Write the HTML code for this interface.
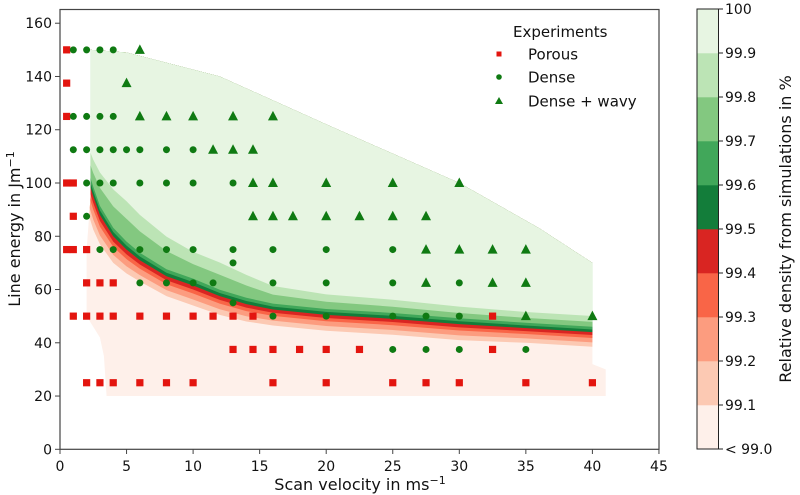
<!DOCTYPE html>
<html><head><meta charset="utf-8">
<style>
html,body{margin:0;padding:0;background:#fff;}
svg{display:block;font-family:"DejaVu Sans","Liberation Sans",sans-serif;}
</style></head>
<body>
<svg id="chart" width="800" height="495" viewBox="0 0 800 495" xmlns="http://www.w3.org/2000/svg">
<defs><clipPath id="domclip"><polygon id="dompoly" points=""/></clipPath></defs>
<g id="plot"></g>
<g id="axes"></g>
<g id="legend"></g>
<g id="cbar"></g>
</svg>
<script>
// ---- data ----
const xTicks = [0,5,10,15,20,25,30,35,40,45];
const yTicks = [0,20,40,60,80,100,120,140,160];
const cbarTicks = ["< 99.0","99.1","99.2","99.3","99.4","99.5","99.6","99.7","99.8","99.9","100"];
const levels = [99.1,99.2,99.3,99.4,99.5,99.6,99.7,99.8,99.9];
const bandColors = ["#fef0ea","#fcc9b3","#fc9c7f","#f96547","#d92522","#137d3a","#41a75a","#83c880","#bce4b5","#e7f5e2"];
const contourX = [1.5,2,2.5,3,4,5,6,8,10,12,14,16,20,25,30,35,40,42];
const contourCenter = [104,103,95,88,80,75,71,65,61.5,57.5,54.5,52.5,50.5,49,47,45.5,44,44];
const redSpread = [2.5,2.5,2.5,2.2,2,1.8,1.6,1.5,1.5,1.4,1.3,1.2,1.2,1.2,1.2,1.1,1.1,1.1];
const innerGreenSpread = [1.8,1.8,1.8,1.7,1.6,1.5,1.4,1.3,1.3,1.2,1.2,1.1,1.1,1.1,1.1,1.0,1.0,1.0];
const outerGreenSpread = [2,2.2,2.5,2.9,3.2,3.3,3.1,2.7,2.3,2.3,2.0,1.6,1.4,1.3,1.2,1.1,1.1,1.1];
const levelOffset = [-5,-3.5,-2,-1,0,1,2,3.5,5.5];
const domainX = [2.3,5,12,20,30,36,40,40,41,41,3.5,3.3,3,2,2,2.3];
const domainY = [150,149,140,122,100,83,70,32,30,20,20,35,42,50,75,95];
const porousX = [0.5,0.5,0.5,0.5,0.5,1,1,1,1,2,2,2,2,3,3,3,4,4,4,6,6,8,8,10,10,11.5,13,13,14.5,14.5,16,16,18,20,20,22.5,25,27.5,30,32.5,32.5,35,40];
const porousY = [150,137.5,125,100,75,100,87.5,75,50,75,62.5,50,25,62.5,50,25,62.5,50,25,50,25,50,25,50,25,50,50,37.5,50,37.5,37.5,25,37.5,37.5,25,37.5,25,25,25,50,37.5,25,25];
const denseX = [1,2,3,4,1,2,3,4,1,2,3,4,5,6,8,10,2,3,4,6,8,10,13,2,3,4,6,8,10,13,16,20,25,13,6,8,10,11.5,16,20,25,30,13,16,20,25,27.5,30,25,27.5,30,35];
const denseY = [150,150,150,150,125,125,125,125,112.5,112.5,112.5,112.5,112.5,112.5,112.5,112.5,100,100,100,100,100,100,100,87.5,75,75,75,75,75,75,75,75,75,70,62.5,62.5,62.5,62.5,62.5,62.5,62.5,62.5,55,50,50,50,50,50,37.5,37.5,37.5,37.5];
const wavyX = [6,5,6,8,10,13,16,11.5,13,14.5,14.5,16,20,25,30,14.5,16,17.5,20,22.5,25,27.5,27.5,30,32.5,35,27.5,32.5,35,35,40];
const wavyY = [150,137.5,125,125,125,125,125,112.5,112.5,112.5,100,100,100,100,100,87.5,87.5,87.5,87.5,87.5,87.5,87.5,75,75,75,75,62.5,62.5,62.5,50,50];

// ---- scales ----
const X = v => 60 + v * 13.31;
const Y = v => 449.3 - v * 2.663;
const NS = "http://www.w3.org/2000/svg";
function mk(tag, attrs, parent){const e=document.createElementNS(NS,tag);for(const k in attrs)e.setAttribute(k,attrs[k]);parent.appendChild(e);return e;}
const plot=document.getElementById('plot'), axes=document.getElementById('axes'), legend=document.getElementById('legend'), cbar=document.getElementById('cbar');

document.getElementById('dompoly').setAttribute('points', domainX.map((x,i)=>X(x)+','+Y(domainY[i])).join(' '));
const filled = mk('g',{'clip-path':'url(#domclip)'},plot);


const base = mk('rect',{x:0,y:0,width:800,height:495,fill:bandColors[0]},filled);


levels.forEach((lv,i)=>{
  const off = levelOffset[i];
  const spread = off<=0 ? redSpread : (off<3 ? innerGreenSpread : outerGreenSpread);
  const pts = contourX.map((x,j)=>X(x)+','+Y(contourCenter[j]+off*spread[j]));
  pts.push(X(contourX[contourX.length-1])+',0');
  pts.push(X(contourX[0])+',0');
  const p = mk('polygon',{points:pts.join(' '),fill:bandColors[i+1]},filled);
  
  
});

const RED="#e3150f", GREEN="#0f7a12";
porousX.forEach((x,i)=>{
  const r=mk('rect',{x:X(x)-3.6,y:Y(porousY[i])-3.6,width:7.2,height:7.2,fill:RED},plot);
  
  
});
denseX.forEach((x,i)=>{
  const c=mk('circle',{cx:X(x),cy:Y(denseY[i]),r:3.5,fill:GREEN},plot);
  
  
});
wavyX.forEach((x,i)=>{
  const cx=X(x), cy=Y(wavyY[i]);
  const t=mk('polygon',{points:`${cx},${cy-5.5} ${cx-5},${cy+4} ${cx+5},${cy+4}`,fill:GREEN},plot);
  
  
});

const frame=mk('rect',{x:60,y:9.5,width:599,height:439.8,fill:'none',stroke:'#444','stroke-width':1.2},axes);


xTicks.forEach(v=>{
  mk('line',{x1:X(v),x2:X(v),y1:449.3,y2:454,stroke:'#444','stroke-width':1},axes);
  const t=mk('text',{x:X(v),y:471,'text-anchor':'middle','font-size':14,fill:'#111'},axes);
  t.textContent=v;
  
  
});
yTicks.forEach(v=>{
  mk('line',{x1:55,x2:60,y1:Y(v),y2:Y(v),stroke:'#444','stroke-width':1},axes);
  const t=mk('text',{x:52,y:Y(v)+5,'text-anchor':'end','font-size':14,fill:'#111'},axes);
  t.textContent=v;
  
  
});
const xl=mk('text',{x:360,y:490,'text-anchor':'middle','font-size':16,fill:'#111'},axes);
xl.innerHTML='Scan velocity in ms<tspan dy="-6" font-size="11">−1</tspan>';


const yl=mk('text',{x:0,y:0,'text-anchor':'middle','font-size':16,fill:'#111',transform:'translate(20,229) rotate(-90)'},axes);
yl.innerHTML='Line energy in Jm<tspan dy="-6" font-size="11">−1</tspan>';



const lt=mk('text',{x:513,y:37,'font-size':15,fill:'#111'},legend);
lt.textContent='Experiments';


const legItems=[['Porous',54],['Dense',77],['Dense + wavy',101]];
legItems.forEach((it,i)=>{
  const y=it[1];
  if(i===0) mk('rect',{x:496.5,y:y-2.5,width:5,height:5,fill:RED},legend);
  else if(i===1) mk('circle',{cx:499,cy:y,r:2.8,fill:GREEN},legend);
  else mk('polygon',{points:`499,${y-4} 495,${y+3} 503,${y+3}`,fill:GREEN},legend);
  const t=mk('text',{x:528,y:y+5.5,'font-size':15,fill:'#111'},legend);
  t.textContent=it[0];
  
  
});

const cbTop=9, cbBot=449, cbH=(cbBot-cbTop)/10;
bandColors.forEach((c,i)=>{
  const r=mk('rect',{x:697,y:cbBot-(i+1)*cbH,width:21.5,height:cbH+0.3,fill:c},cbar);
  
  
});
mk('rect',{x:697,y:cbTop,width:21.5,height:cbBot-cbTop,fill:'none',stroke:'#222','stroke-width':1},cbar);
cbarTicks.forEach((lab,i)=>{
  const y=cbBot-i*cbH;
  mk('line',{x1:718.5,x2:723,y1:y,y2:y,stroke:'#222','stroke-width':1},cbar);
  const t=mk('text',{x:725,y:y+5,'font-size':14,fill:'#111'},cbar);
  t.textContent=lab;
  
  
});
const cl=mk('text',{x:0,y:0,'text-anchor':'middle','font-size':16,fill:'#111',transform:'translate(791,229) rotate(-90)'},cbar);
cl.textContent='Relative density from simulations in %';


</script>
</body></html>
